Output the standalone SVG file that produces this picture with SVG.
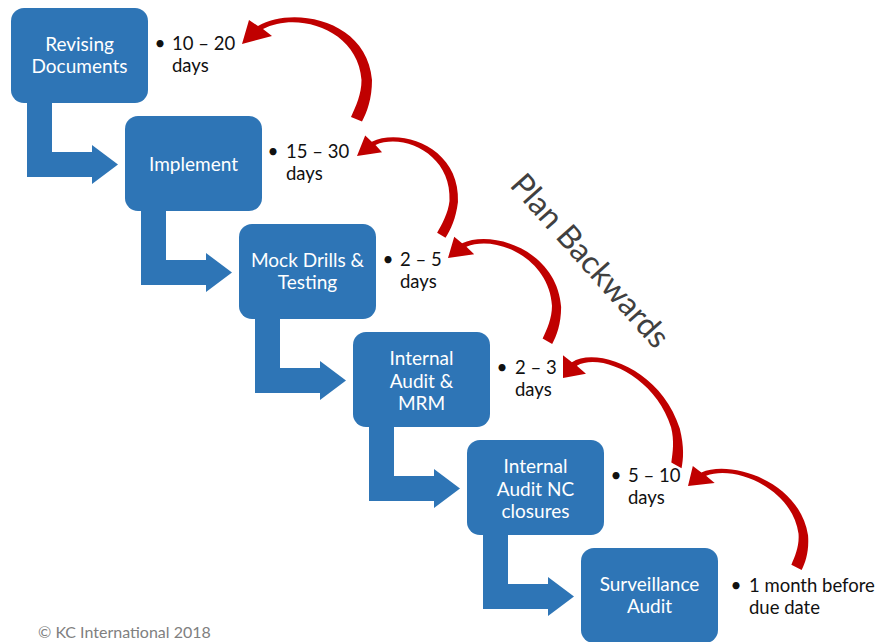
<svg xmlns="http://www.w3.org/2000/svg" width="881" height="642" viewBox="0 0 881 642">
<defs>
<style>
.box{fill:#2E75B6;}
.bt{font-family:Lato,"Liberation Sans",sans-serif;font-size:19px;fill:#ffffff;text-anchor:middle;}
.rt{font-family:Lato,"Liberation Sans",sans-serif;font-size:18.5px;fill:#111111;}
.bu{font-family:Lato,"Liberation Sans",sans-serif;font-size:19px;fill:#111111;text-anchor:middle;}
.bent{fill:#2E75B6;}
.curve{fill:#C00000;}
</style>
<path id="bentArrow" d="M27,101 L52,101 L52,152 L92,152 L92,145 L118,164.5 L92,184 L92,177 L27,177 Z"/>
<path id="redArrow" d="M0,0 L7,-24 L16,-18 C50,-38 125,-25 130,36 C130,55 125,68 120,77.5 L109,73 C114,62 119.5,50 119.5,36 C116,-15 55,-33 21,-15 L30,-8 Z"/>
</defs>
<rect width="881" height="642" fill="#ffffff"/>
<g id="connectors">
<use href="#bentArrow" class="bent" transform="translate(0,0)"/>
<use href="#bentArrow" class="bent" transform="translate(114,108)"/>
<use href="#bentArrow" class="bent" transform="translate(228,216)"/>
<use href="#bentArrow" class="bent" transform="translate(342,324)"/>
<use href="#bentArrow" class="bent" transform="translate(456,432)"/>
<use href="#redArrow" class="curve" transform="translate(242,44)"/>
<use href="#redArrow" class="curve" transform="matrix(0.806,0.108,-0.106,0.889,357,156)"/>
<use href="#redArrow" class="curve" transform="matrix(0.872,0.122,-0.006,0.921,448,258)"/>
<use href="#redArrow" class="curve" transform="matrix(0.831,0.117,0.243,0.983,563,378)"/>
<use href="#redArrow" class="curve" transform="matrix(0.906,0.136,0.063,0.874,688,486)"/>
</g>
<g id="node-revising">
<rect class="box" x="11" y="8" width="137" height="95" rx="13"/>
<text class="bt" x="79.5" y="51">Revising</text>
<text class="bt" x="79.5" y="73">Documents</text>
<text class="bu" x="160" y="50">•</text>
<text class="rt" x="172" y="50">10 – 20</text>
<text class="rt" x="172" y="72">days</text>
</g>
<g id="node-implement">
<rect class="box" x="125" y="116" width="137" height="95" rx="13"/>
<text class="bt" x="193.5" y="170.5">Implement</text>
<text class="bu" x="273" y="158">•</text>
<text class="rt" x="286" y="158">15 – 30</text>
<text class="rt" x="286" y="180">days</text>
</g>
<g id="node-mock">
<rect class="box" x="239" y="224" width="137" height="95" rx="13"/>
<text class="bt" x="307.5" y="267">Mock Drills &amp;</text>
<text class="bt" x="307.5" y="289">Testing</text>
<text class="bu" x="388" y="266">•</text>
<text class="rt" x="400" y="266">2 – 5</text>
<text class="rt" x="400" y="288">days</text>
</g>
<g id="node-internal-audit">
<rect class="box" x="353" y="332" width="137" height="95" rx="13"/>
<text class="bt" x="421.5" y="365">Internal</text>
<text class="bt" x="421.5" y="387.5">Audit &amp;</text>
<text class="bt" x="421.5" y="410">MRM</text>
<text class="bu" x="502" y="374">•</text>
<text class="rt" x="515" y="374">2 – 3</text>
<text class="rt" x="515" y="396">days</text>
</g>
<g id="node-nc-closures">
<rect class="box" x="467" y="440" width="137" height="95" rx="13"/>
<text class="bt" x="535.5" y="473">Internal</text>
<text class="bt" x="535.5" y="495.5">Audit NC</text>
<text class="bt" x="535.5" y="518">closures</text>
<text class="bu" x="616" y="482">•</text>
<text class="rt" x="628" y="482">5 – 10</text>
<text class="rt" x="628" y="504">days</text>
</g>
<g id="node-surveillance">
<rect class="box" x="581" y="548" width="137" height="95" rx="13"/>
<text class="bt" x="649.5" y="591">Surveillance</text>
<text class="bt" x="649.5" y="613">Audit</text>
<text class="bu" x="736" y="592">•</text>
<text class="rt" x="749" y="592">1 month before</text>
<text class="rt" x="749" y="614">due date</text>
</g>
<text transform="translate(582,268) rotate(48.3)" text-anchor="middle" font-family="Lato,'Liberation Sans',sans-serif" font-size="32" fill="#404040">Plan Backwards</text>
<text x="38" y="638" font-family="Lato,'Liberation Sans',sans-serif" font-size="16" fill="#808080">© KC International 2018</text>
</svg>
